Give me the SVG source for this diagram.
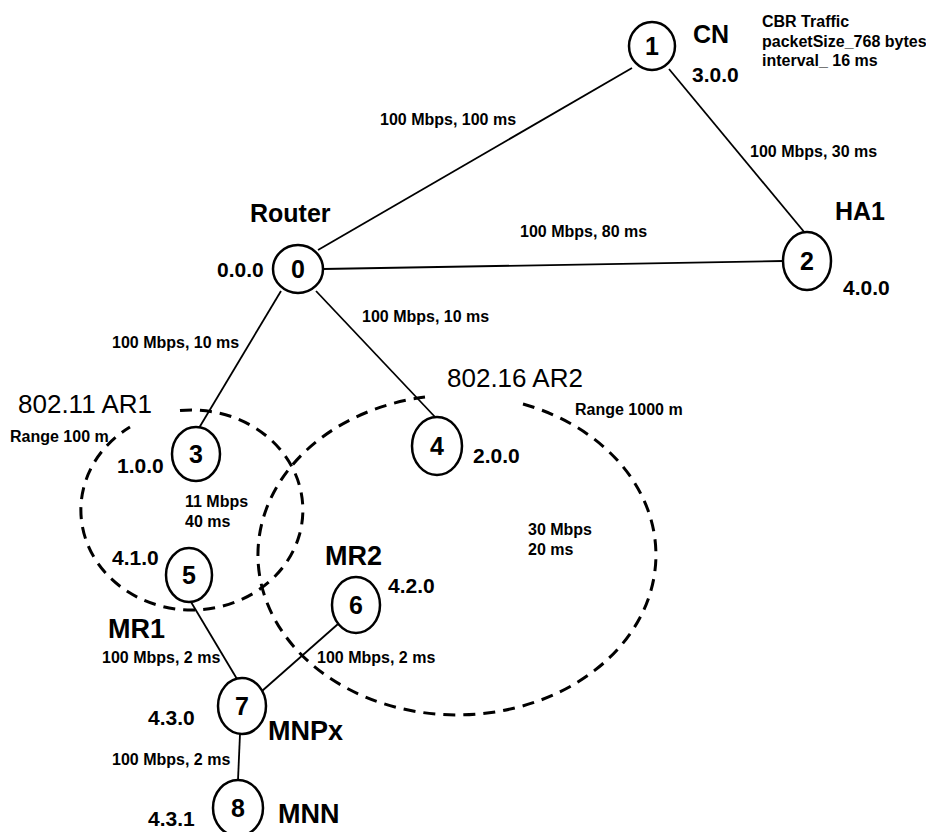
<svg xmlns="http://www.w3.org/2000/svg" width="926" height="832" viewBox="0 0 926 832">
<style>
  text { font-family: "Liberation Sans", Arial, sans-serif; fill: #000; }
  .node ellipse { fill: #fff; stroke: #000; stroke-width: 2.5; }
  .num { font-size: 25px; font-weight: bold; text-anchor: middle; }
  .big { font-size: 25px; font-weight: bold; }
  .mr { font-size: 27px; font-weight: bold; }
  .addr { font-size: 21px; font-weight: bold; }
  .sm { font-size: 16px; font-weight: bold; }
  .ar { font-size: 26px; }
  .link { stroke: #000; stroke-width: 1.8; fill: none; }
  .range { stroke: #000; stroke-width: 3; fill: none; stroke-dasharray: 12 8; }
</style>
<rect width="926" height="832" fill="#fff"/>
<g id="ranges">
  <path class="range" d="M 180 410.6 A 111 100 0 1 1 130 427"/>
  <path class="range" d="M 523 404 A 199 160 0 1 1 425 397"/>
</g>
<g id="connectors">
  <line class="link" x1="632" y1="68" x2="318" y2="250"/>
  <line class="link" x1="669" y1="69" x2="805" y2="233"/>
  <line class="link" x1="323" y1="269" x2="783" y2="261"/>
  <line class="link" x1="281" y1="291" x2="199" y2="428"/>
  <line class="link" x1="316" y1="291" x2="436" y2="418"/>
  <line class="link" x1="191" y1="602" x2="237" y2="679"/>
  <line class="link" x1="338" y1="624" x2="262" y2="691"/>
  <line class="link" x1="240" y1="734" x2="238" y2="780"/>
</g>
<g id="node0" class="node"><ellipse cx="298" cy="269" rx="25" ry="24"/><text class="num" x="298" y="278">0</text></g>
<g id="node1" class="node"><ellipse cx="652" cy="46" rx="23" ry="24"/><text class="num" x="652" y="55">1</text></g>
<g id="node2" class="node"><ellipse cx="807" cy="261" rx="24" ry="29"/><text class="num" x="807" y="270">2</text></g>
<g id="node3" class="node"><ellipse cx="196" cy="454" rx="24" ry="27"/><text class="num" x="196" y="463">3</text></g>
<g id="node4" class="node"><ellipse cx="437" cy="446" rx="25" ry="29"/><text class="num" x="437" y="455">4</text></g>
<g id="node5" class="node"><ellipse cx="189" cy="575" rx="23" ry="27"/><text class="num" x="189" y="584">5</text></g>
<g id="node6" class="node"><ellipse cx="356" cy="605" rx="24" ry="28"/><text class="num" x="356" y="614">6</text></g>
<g id="node7" class="node"><ellipse cx="242" cy="706" rx="24" ry="28"/><text class="num" x="242" y="715">7</text></g>
<g id="node8" class="node"><ellipse cx="238" cy="808" rx="25" ry="28"/><text class="num" x="238" y="817">8</text></g>
<g id="labels">
  <text class="big" x="693" y="43">CN</text>
  <text class="addr" x="692" y="82">3.0.0</text>
  <text class="sm" x="762" y="27">CBR Traffic</text>
  <text class="sm" x="762" y="47">packetSize_768 bytes</text>
  <text class="sm" x="762" y="66">interval_ 16 ms</text>
  <text class="big" x="250" y="222">Router</text>
  <text class="addr" x="217" y="277">0.0.0</text>
  <text class="big" x="835" y="220">HA1</text>
  <text class="addr" x="843" y="295">4.0.0</text>
  <text class="ar" x="18" y="413">802.11 AR1</text>
  <text class="sm" x="10" y="442">Range 100 m</text>
  <text class="ar" x="447" y="387">802.16 AR2</text>
  <text class="sm" x="575" y="415">Range 1000 m</text>
  <text class="addr" x="117" y="473">1.0.0</text>
  <text class="addr" x="473" y="463">2.0.0</text>
  <text class="sm" x="185" y="507">11 Mbps</text>
  <text class="sm" x="185" y="527">40 ms</text>
  <text class="sm" x="528" y="535">30 Mbps</text>
  <text class="sm" x="528" y="555">20 ms</text>
  <text class="addr" x="112" y="565">4.1.0</text>
  <text class="mr" x="325" y="565">MR2</text>
  <text class="addr" x="388" y="593">4.2.0</text>
  <text class="mr" x="108" y="638">MR1</text>
  <text class="addr" x="148" y="725">4.3.0</text>
  <text class="mr" x="268" y="740">MNPx</text>
  <text class="mr" x="278" y="823">MNN</text>
  <text class="addr" x="148" y="826">4.3.1</text>
  <text class="sm" x="380" y="125">100 Mbps, 100 ms</text>
  <text class="sm" x="750" y="157">100 Mbps, 30 ms</text>
  <text class="sm" x="520" y="237">100 Mbps, 80 ms</text>
  <text class="sm" x="362" y="322">100 Mbps, 10 ms</text>
  <text class="sm" x="112" y="348">100 Mbps, 10 ms</text>
  <text class="sm" x="102" y="663">100 Mbps, 2 ms</text>
  <text class="sm" x="317" y="663">100 Mbps, 2 ms</text>
  <text class="sm" x="112" y="765">100 Mbps, 2 ms</text>
</g>
</svg>
